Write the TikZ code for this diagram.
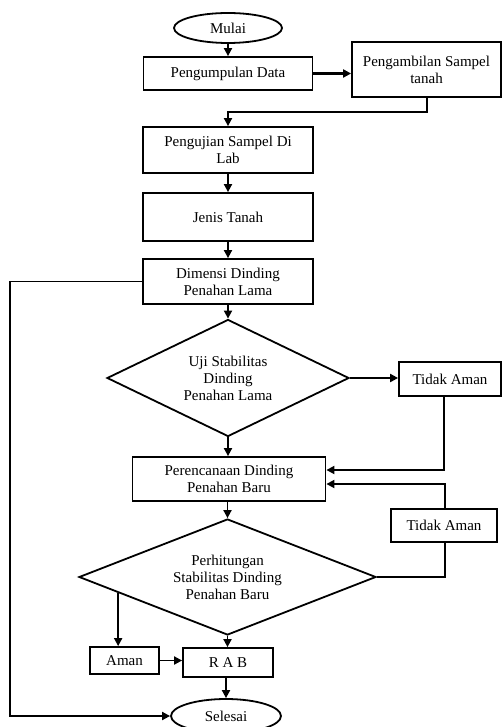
\documentclass[tikz,border=0pt]{standalone}
\usepackage{fontspec}
\setmainfont{Liberation Serif}
\usetikzlibrary{shapes.geometric,arrows.meta,calc}
\begin{document}
\begin{tikzpicture}[x=1pt,y=-1pt,
  font=\fontsize{15}{17}\selectfont,
  box/.style 2 args={draw,line width=1.8pt,rectangle,inner sep=0pt,align=center,minimum width=#1pt,minimum height=#2pt},
  oval/.style 2 args={draw,line width=1.8pt,ellipse,inner sep=0pt,align=center,minimum width=#1pt,minimum height=#2pt},
  decision/.style 2 args={draw,line width=1.8pt,diamond,inner sep=0pt,minimum width=#1pt,minimum height=#2pt},
  label text/.style={inner sep=0pt,align=center},
  conn/.style={line width=1.8pt,-{Triangle[length=8pt,width=8pt]}},
  thickconn/.style={line width=2.6pt,-{Triangle[length=8pt,width=8pt]}},
  plain/.style={line width=1.8pt}]
\useasboundingbox (0,0) rectangle (503,727);
\node[oval={108}{30}] (mulai) at (228,28) {Mulai};
\node[box={169}{33}] (peng) at (228,73.5) {Pengumpulan Data};
\node[box={149}{55}] (ambil) at (426.5,69.5) {Pengambilan Sampel\\tanah};
\node[box={170}{46}] (uji) at (228,150) {Pengujian Sampel Di\\Lab};
\node[box={170}{48}] (jenis) at (228,217) {Jenis Tanah};
\node[box={170}{45}] (dim) at (228,281.5) {Dimensi Dinding\\Penahan Lama};
\node[decision={242}{117}] (d1) at (228,378) {};
\node[label text] (d1t) at (d1.center) {Uji Stabilitas\\Dinding\\Penahan Lama};
\node[box={102}{34}] (ta1) at (450,379) {Tidak Aman};
\node[box={193}{44}] (per) at (229,479) {Perencanaan Dinding\\Penahan Baru};
\node[box={106}{33}] (ta2) at (444,525.5) {Tidak Aman};
\node[decision={297}{116}] (d2) at (227.5,577) {};
\node[label text] (d2t) at (d2.center) {Perhitungan\\Stabilitas Dinding\\Penahan Baru};
\node[box={69}{27}] (aman) at (124.5,660.5) {Aman};
\node[box={90}{29}] (rab) at (228,662.5) {R A B};
\node[oval={110}{34}] (sel) at (226,716) {Selesai};

\coordinate (ambilout) at (427,112);
\coordinate (ta1down) at (444,470);
\coordinate (ta2up) at (445,484);
\coordinate (d2right) at (445,577);
\coordinate (d2ll) at ($(d2.west)!0.268!(d2.south)$);
\coordinate (leftrail) at (10,281.5);

\draw[conn] (mulai.south) -- (peng.north);
\draw[thickconn] (peng.east) -- (ambil.west |- peng.east);
\draw[conn] (ambil.south -| ambilout) -- (ambilout) -| (uji.north);
\draw[conn] (uji.south) -- (jenis.north);
\draw[conn] (jenis.south) -- (dim.north);
\draw[conn] (dim.south) -- (d1.north);
\draw[thickconn] (d1.east) -- (ta1.west |- d1.east);
\draw[conn] (d1.south) -- (per.north -| d1.south);
\draw[conn] (ta1.south -| ta1down) -- (ta1down) -- (per.east |- ta1down);
\draw[plain] (d2.east) -- (d2right) -- (ta2.south -| d2right);
\draw[conn] (ta2.north -| ta2up) -- (ta2up) -- (per.east |- ta2up);
\draw[conn] (per.south -| d2.north) -- (d2.north);
\draw[conn] (d2.south) -- (rab.north -| d2.south);
\draw[conn] (d2ll) -- (aman.north -| d2ll);
\draw[conn] (aman.east) -- (rab.west |- aman.east);
\draw[conn] (rab.south -| sel.north) -- (sel.north);
\draw[conn] (dim.west) -- (leftrail) |- (sel.west);
\end{tikzpicture}
\end{document}
